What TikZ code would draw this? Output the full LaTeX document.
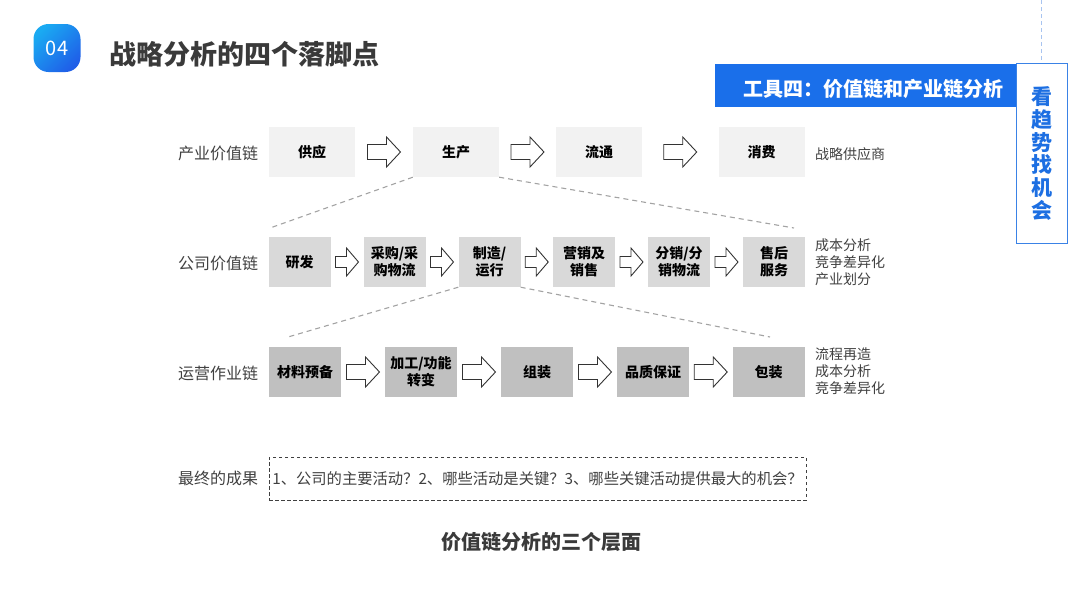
\documentclass[tikz,border=0pt]{standalone}
\usepackage{fontspec}
\setmainfont{Noto Sans CJK SC}
\usetikzlibrary{calc}
\definecolor{gA}{HTML}{F2F2F2}
\definecolor{gB}{HTML}{D9D9D9}
\definecolor{gC}{HTML}{C0C0C0}
\definecolor{txt}{HTML}{404040}
\definecolor{ttl}{HTML}{3A3A3A}
\definecolor{bar}{HTML}{1A6FEA}
\definecolor{vbord}{HTML}{3A82E6}
\definecolor{vtext}{HTML}{1D6FE2}
\definecolor{blobA}{HTML}{1AAAF2}
\definecolor{blobB}{HTML}{1F5FE8}
\definecolor{dashc}{HTML}{A3A3A3}
\definecolor{vdash}{HTML}{A8C4F0}
\begin{document}
\begin{tikzpicture}[x=1pt,y=-1pt,
  rowlbl/.style={anchor=west, text=txt, inner sep=0, font=\fontsize{16}{19}\selectfont},
  sidetxt/.style={anchor=west, text=txt, inner sep=0, align=left, font=\fontsize{14}{17}\selectfont},
  boxbase/.style={minimum height=50, inner sep=0, align=center, text=black, font=\fontsize{14}{17}\selectfont\bfseries},
  boxA/.style={boxbase, fill=gA, minimum width=86},
  boxB/.style={boxbase, fill=gB, minimum width=62},
  boxC/.style={boxbase, fill=gC, minimum width=72},
  arrowline/.style={draw=black!80, fill=white, line width=0.9pt, line join=miter},
  dashline/.style={draw=dashc, line width=1.1pt, dash pattern=on 5pt off 4pt},
  bigarrow/.pic={\path[arrowline] (-16.5,-7.5) -- (2.5,-7.5) -- (2.5,-15) -- (16.5,0) -- (2.5,15) -- (2.5,7.5) -- (-16.5,7.5) -- cycle;},
  smallarrow/.pic={\path[arrowline] (-11.5,-5.5) -- (-0.5,-5.5) -- (-0.5,-14) -- (11.5,0) -- (-0.5,14) -- (-0.5,5.5) -- (-11.5,5.5) -- cycle;}
]
\useasboundingbox (0,0) rectangle (1080,608);

% header
\draw[draw=vdash, line width=1pt, dash pattern=on 4pt off 3pt] (1041,0) -- (1041,62);
\node[rounded corners=15, minimum width=47, minimum height=48, inner sep=0,
      left color=blobA, right color=blobB, shading angle=45, text=white,
      font=\fontsize{20}{22}\selectfont] (num) at (57,48) {04};
\node[anchor=west, inner sep=0, text=ttl, font=\fontsize{27}{30}\selectfont\bfseries] (title) at (109,54) {战略分析的四个落脚点};
\node[fill=bar, minimum width=302, minimum height=43, inner sep=0, anchor=north west] (bar) at (715,64) {};
\node[anchor=east, inner sep=0, text=white, font=\fontsize{20}{24}\selectfont\bfseries] (bartxt) at (1004,89) {工具四：价值链和产业链分析};
\node[draw=vbord, line width=1.3pt, fill=white, minimum width=51, minimum height=180, inner sep=0, anchor=north west] (vbox) at (1016,63) {};
\node[text=vtext, align=center, inner sep=0, font=\fontsize{21}{22.8}\selectfont\bfseries] (vtxt) at (1041.5,153.5) {看\\趋\\势\\找\\机\\会};

% row 1
\node[rowlbl] (l1) at (178,153) {产业价值链};
\node[boxA] (gy) at (312,152) {供应};
\node[boxA] (sc) at (456,152) {生产};
\node[boxA] (lt) at (599,152) {流通};
\node[boxA] (xf) at (761.5,152) {消费};
\path ($(gy.east)!0.5!(sc.west)$) pic {bigarrow};
\path ($(sc.east)!0.5!(lt.west)$) pic {bigarrow};
\path ($(lt.east)!0.5!(xf.west)$) pic {bigarrow};
\node[sidetxt] (s1) at (815,154) {战略供应商};

% row 2
\node[rowlbl] (l2) at (178,263) {公司价值链};
\node[boxB] (yf) at (299.5,262) {研发};
\node[boxB] (cg) at (394.5,262) {采购/采\\购物流};
\node[boxB] (zz) at (489.5,262) {制造/\\运行};
\node[boxB] (yx) at (584,262) {营销及\\销售};
\node[boxB] (fx) at (679,262) {分销/分\\销物流};
\node[boxB] (sh) at (774,262) {售后\\服务};
\path ($(yf.east)!0.5!(cg.west)$) pic {smallarrow};
\path ($(cg.east)!0.5!(zz.west)$) pic {smallarrow};
\path ($(zz.east)!0.5!(yx.west)$) pic {smallarrow};
\path ($(yx.east)!0.5!(fx.west)$) pic {smallarrow};
\path ($(fx.east)!0.5!(sh.west)$) pic {smallarrow};
\node[sidetxt] (s2) at (815,262) {成本分析\\竞争差异化\\产业划分};

% row 3
\node[rowlbl] (l3) at (178,373) {运营作业链};
\node[boxC] (cl) at (305,372) {材料预备};
\node[boxC] (jg) at (421,372) {加工/功能\\转变};
\node[boxC] (zx) at (537,372) {组装};
\node[boxC] (pz) at (653,372) {品质保证};
\node[boxC] (bz) at (768.5,372) {包装};
\path ($(cl.east)!0.5!(jg.west)$) pic {bigarrow};
\path ($(jg.east)!0.5!(zx.west)$) pic {bigarrow};
\path ($(zx.east)!0.5!(pz.west)$) pic {bigarrow};
\path ($(pz.east)!0.5!(bz.west)$) pic {bigarrow};
\node[sidetxt] (s3) at (815,371) {流程再造\\成本分析\\竞争差异化};

% zoom lines
\coordinate (z1l) at (270,228);
\coordinate (z1r) at (794,228);
\coordinate (z2l) at (288,337);
\coordinate (z2r) at (770,337);
\draw[dashline] (sc.south west) -- (z1l);
\draw[dashline] (sc.south east) -- (z1r);
\draw[dashline] (zz.south west) -- (z2l);
\draw[dashline] (zz.south east) -- (z2r);

% result
\node[rowlbl] (l4) at (178,478) {最终的成果};
\node[draw=black!75, line width=0.9pt, dash pattern=on 3.5pt off 2.5pt, minimum width=537, minimum height=43, inner sep=0,
      text=txt, font=\fontsize{15.3}{18}\selectfont] (res) at (537.5,478.5) {1、公司的主要活动？2、哪些活动是关键？3、哪些关键活动提供最大的机会？};

\node[inner sep=0, text=ttl, font=\fontsize{20}{24}\selectfont\bfseries] (cap) at (541,542) {价值链分析的三个层面};
\end{tikzpicture}
\end{document}
